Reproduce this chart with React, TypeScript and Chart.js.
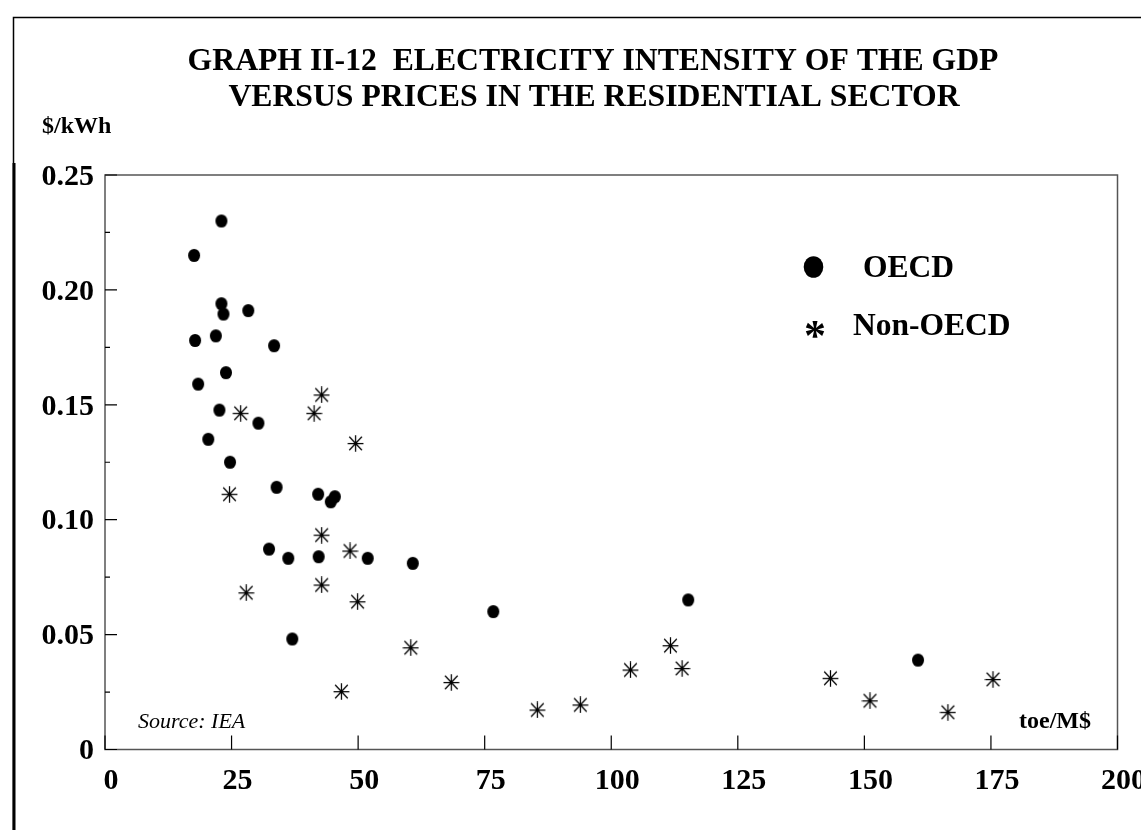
import React, { useEffect, useRef } from 'react';
import { Chart, registerables } from 'chart.js';

Chart.register(...registerables);

// ---------- text ----------
const titleLines = [
  'GRAPH II-12  ELECTRICITY INTENSITY OF THE GDP',
  'VERSUS PRICES IN THE RESIDENTIAL SECTOR',
];
const yUnitLabel = '$/kWh';
const xUnitLabel = 'toe/M$';
const sourceNote = 'Source: IEA';
const seriesNames = ['OECD', 'Non-OECD'];

// ---------- ticks ----------
const xTickValues = [0, 25, 50, 75, 100, 125, 150, 175, 200];
const xTickLabels = ['0', '25', '50', '75', '100', '125', '150', '175', '200'];
const yTickValues = [0, 0.05, 0.1, 0.15, 0.2, 0.25];
const yTickLabels = ['0', '0.05', '0.10', '0.15', '0.20', '0.25'];
const yMinorTickValues = [0.025, 0.075, 0.125, 0.175, 0.225];

// ---------- data: OECD (toe/M$, $/kWh) ----------
const oecdIntensity = [
  23.0, 17.6, 23.0, 23.4, 28.3, 17.8, 21.9, 33.4, 23.9, 18.4,
  22.6, 30.3, 20.4, 24.7, 33.9, 42.1, 45.4, 44.6, 32.4, 36.2,
  42.2, 51.9, 60.8, 37.0, 76.7, 115.2, 160.6,
];
const oecdPrice = [
  0.230, 0.215, 0.194, 0.1895, 0.191, 0.178, 0.180, 0.1757, 0.164, 0.159,
  0.1477, 0.142, 0.135, 0.125, 0.1141, 0.1111, 0.110, 0.1078, 0.0872, 0.0832,
  0.0839, 0.0832, 0.0810, 0.0481, 0.0600, 0.0651, 0.0389,
];

// ---------- data: Non-OECD ----------
const nonOecdIntensity = [
  26.8, 42.8, 41.3, 49.5, 24.6, 42.8, 48.4, 27.9, 42.8, 49.9,
  46.7, 60.4, 68.4, 85.4, 93.9, 103.8, 111.7, 114.0, 143.3, 151.1,
  166.5, 175.4,
];
const nonOecdPrice = [
  0.1463, 0.1543, 0.1463, 0.1332, 0.1111, 0.0933, 0.0864, 0.0682, 0.0716, 0.0643,
  0.0252, 0.0443, 0.0292, 0.0172, 0.0194, 0.0346, 0.0452, 0.0353, 0.0310, 0.0212,
  0.0162, 0.0305,
];

const SERIF = '"Liberation Serif", "Times New Roman", serif';

function makeDot(): HTMLCanvasElement {
  const c = document.createElement('canvas');
  c.width = 14;
  c.height = 15;
  const g = c.getContext('2d')!;
  g.fillStyle = '#000';
  g.beginPath();
  g.ellipse(7, 7.5, 6.0, 6.6, 0, 0, Math.PI * 2);
  g.fill();
  return c;
}

function makeStar(): HTMLCanvasElement {
  const c = document.createElement('canvas');
  c.width = 17;
  c.height = 17;
  const g = c.getContext('2d')!;
  g.strokeStyle = '#000';
  g.lineWidth = 1.25;
  g.beginPath();
  g.moveTo(8.5, 0.3); g.lineTo(8.5, 16.7);
  g.moveTo(0.6, 8.5); g.lineTo(16.4, 8.5);
  g.moveTo(2.2, 1.8); g.lineTo(14.8, 15.2);
  g.moveTo(14.8, 1.8); g.lineTo(2.2, 15.2);
  g.stroke();
  g.fillStyle = '#000';
  g.fillRect(7.3, 7.3, 2.4, 2.4);
  return c;
}

const decorPlugin = {
  id: 'decor',
  beforeDraw(chart: any) {
    const ctx = chart.ctx as CanvasRenderingContext2D;
    ctx.save();
    ctx.fillStyle = '#fff';
    ctx.fillRect(0, 0, chart.width, chart.height);
    ctx.restore();
  },
  afterDraw(chart: any) {
    const ctx = chart.ctx as CanvasRenderingContext2D;
    const { left, right, top, bottom } = chart.chartArea;
    const xs = chart.scales.x;
    const ys = chart.scales.y;
    ctx.save();

    // outer page frame
    ctx.strokeStyle = '#000';
    ctx.lineWidth = 1.5;
    ctx.beginPath();
    ctx.moveTo(13.5, 830);
    ctx.lineTo(13.5, 17.5);
    ctx.lineTo(1141, 17.5);
    ctx.stroke();
    ctx.lineWidth = 3;
    ctx.beginPath();
    ctx.moveTo(14, 163);
    ctx.lineTo(14, 830);
    ctx.stroke();

    // plot frame
    ctx.strokeStyle = '#555';
    ctx.lineWidth = 1.5;
    ctx.strokeRect(left, top, right - left, bottom - top);

    // inward ticks
    ctx.strokeStyle = '#000';
    ctx.lineWidth = 1.2;
    ctx.beginPath();
    yTickValues.forEach((v) => {
      const p = ys.getPixelForValue(v);
      ctx.moveTo(left, p);
      ctx.lineTo(left + 12, p);
    });
    yMinorTickValues.forEach((v) => {
      const p = ys.getPixelForValue(v);
      ctx.moveTo(left, p);
      ctx.lineTo(left + 5, p);
    });
    xTickValues.forEach((v) => {
      const p = xs.getPixelForValue(v);
      ctx.moveTo(p, bottom);
      ctx.lineTo(p, bottom - 14);
    });
    ctx.stroke();

    // title
    ctx.fillStyle = '#000';
    ctx.textAlign = 'center';
    ctx.textBaseline = 'alphabetic';
    ctx.font = `bold 31.7px ${SERIF}`;
    ctx.fillText(titleLines[0], 593, 70);
    ctx.fillText(titleLines[1], 594, 106);

    // axis units
    ctx.textAlign = 'left';
    ctx.font = `bold 24px ${SERIF}`;
    ctx.fillText(yUnitLabel, 42, 133);
    ctx.textAlign = 'right';
    ctx.fillText(xUnitLabel, 1091, 728);

    // source
    ctx.textAlign = 'left';
    ctx.font = `italic 22px ${SERIF}`;
    ctx.fillText(sourceNote, 138, 728);

    // legend
    ctx.beginPath();
    ctx.ellipse(813.5, 267, 9.8, 10.8, 0, 0, Math.PI * 2);
    ctx.fill();
    ctx.font = `bold 31.5px ${SERIF}`;
    ctx.fillText(seriesNames[0], 863, 277);
    ctx.fillText(seriesNames[1], 853, 335);
    ctx.textAlign = 'center';
    ctx.font = `bold 44px ${SERIF}`;
    ctx.fillText('*', 815, 350);

    ctx.restore();
  },
};

export default function App() {
  const ref = useRef<HTMLCanvasElement>(null);

  useEffect(() => {
    if (!ref.current) return;
    const dot = makeDot();
    const star = makeStar();
    const chart = new Chart(ref.current, {
      type: 'scatter',
      data: {
        datasets: [
          {
            label: seriesNames[0],
            data: oecdIntensity.map((x, i) => ({ x, y: oecdPrice[i] })),
            pointStyle: dot as any,
            pointRadius: 7,
            backgroundColor: '#000',
            borderColor: '#000',
          },
          {
            label: seriesNames[1],
            data: nonOecdIntensity.map((x, i) => ({ x, y: nonOecdPrice[i] })),
            pointStyle: star as any,
            pointRadius: 8,
            backgroundColor: '#000',
            borderColor: '#000',
          },
        ],
      },
      options: {
        animation: false,
        responsive: false,
        devicePixelRatio: 1,
        events: [],
        layout: { padding: { left: 0, top: 175, right: 23.5, bottom: 0 } },
        plugins: {
          legend: { display: false },
          title: { display: false },
          tooltip: { enabled: false },
        },
        scales: {
          x: {
            type: 'linear',
            position: 'bottom',
            min: 0,
            max: 200,
            grid: { display: false, drawTicks: false },
            border: { display: false },
            ticks: {
              stepSize: 25,
              color: '#000',
              font: { family: SERIF, size: 30, weight: 'bold' },
              padding: 14,
              labelOffset: 6,
              maxRotation: 0,
              autoSkip: false,
              callback: (_v: any, i: number) => xTickLabels[i],
            },
            afterFit: (s: any) => {
              s.height = 80.5;
              s.paddingLeft = 0;
              s.paddingRight = 0;
            },
          },
          y: {
            type: 'linear',
            position: 'left',
            min: 0,
            max: 0.25,
            grid: { display: false, drawTicks: false },
            border: { display: false },
            ticks: {
              stepSize: 0.05,
              color: '#000',
              font: { family: SERIF, size: 30, weight: 'bold' },
              padding: 11,
              labelOffset: 2,
              autoSkip: false,
              callback: (_v: any, i: number) => yTickLabels[i],
            },
            afterFit: (s: any) => {
              s.width = 105;
              s.paddingTop = 0;
              s.paddingBottom = 0;
            },
          },
        },
      } as any,
      plugins: [decorPlugin],
    });
    return () => chart.destroy();
  }, []);

  return (
    <div style={{ position: 'absolute', left: 0, top: 0, width: 1141, height: 830, overflow: 'hidden', background: '#fff' }}>
      <canvas ref={ref} width={1141} height={830} style={{ display: 'block' }} />
    </div>
  );
}
